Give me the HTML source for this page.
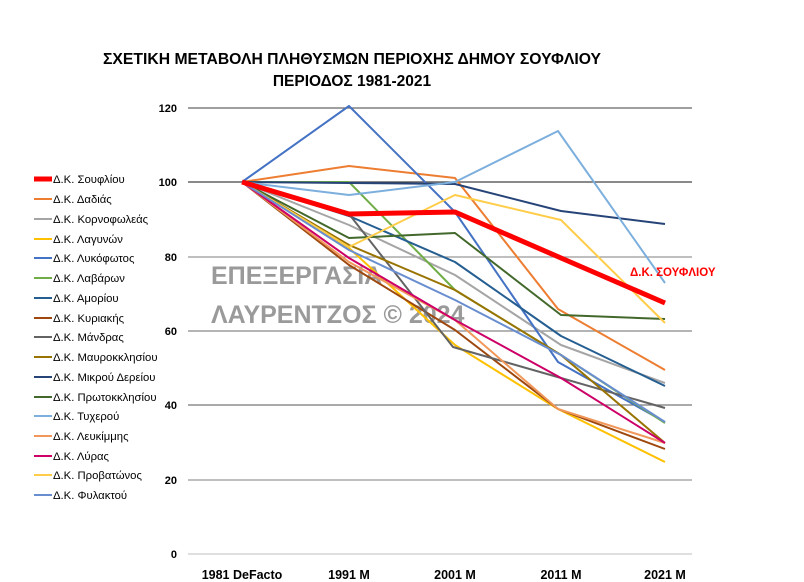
<!DOCTYPE html>
<html><head><meta charset="utf-8"><style>body{margin:0;background:#fff}svg{display:block}text{font-family:"Liberation Sans","DejaVu Sans",sans-serif}</style></head><body>
<svg width="804" height="582" xmlns="http://www.w3.org/2000/svg">
<text x="352" y="64" text-anchor="middle" font-size="15.5" font-weight="bold" textLength="498" lengthAdjust="spacingAndGlyphs">ΣΧΕΤΙΚΗ ΜΕΤΑΒΟΛΗ ΠΛΗΘΥΣΜΩΝ ΠΕΡΙΟΧΗΣ ΔΗΜΟΥ ΣΟΥΦΛΙΟΥ</text>
<text x="352" y="86" text-anchor="middle" font-size="15.5" font-weight="bold">ΠΕΡΙΟΔΟΣ 1981-2021</text>
<g stroke-width="1.3">
<line x1="188" x2="692" y1="108" y2="108" stroke="#666"/>
<line x1="188" x2="692" y1="182" y2="182" stroke="#444"/>
<line x1="188" x2="692" y1="257" y2="257" stroke="#999"/>
<line x1="188" x2="692" y1="331" y2="331" stroke="#888"/>
<line x1="188" x2="692" y1="405" y2="405" stroke="#777"/>
<line x1="188" x2="692" y1="480" y2="480" stroke="#999"/>
<line x1="188" x2="692" y1="554" y2="554" stroke="#ccc"/>
</g>
<g font-size="11" font-weight="bold" text-anchor="end">
<text x="177" y="112">120</text><text x="177" y="186">100</text><text x="177" y="261">80</text><text x="177" y="335">60</text><text x="177" y="409">40</text><text x="177" y="484">20</text><text x="177" y="558">0</text>
</g>
<g font-size="12.5" font-weight="bold" text-anchor="middle">
<text x="242" y="579">1981 DeFacto</text><text x="349" y="579">1991 M</text><text x="455" y="579">2001 M</text><text x="561" y="579">2011 M</text><text x="665" y="579">2021 M</text>
</g>
<g font-size="25" fill="#9a9a9a" font-weight="bold">
<text x="211" y="284">ΕΠΕΞΕΡΓΑΣΙΑ</text>
<text x="211" y="323">ΛΑΥΡΕΝΤΖΟΣ © 2024</text>
</g>
<g fill="none" stroke-width="2" stroke-linejoin="round">
<polyline stroke="#ED7D31" points="242,182 349,166 455,178 558,309 665,370"/>
<polyline stroke="#A5A5A5" points="242,182 349,225 455,275 561,345 665,383"/>
<polyline stroke="#FFC000" points="242,182 349,248 455,345 558,409 665,462"/>
<polyline stroke="#4472C4" points="242,182 349,106 455,212 558,362 665,422"/>
<polyline stroke="#70AD47" points="242,182 349,182 455,290 561,355 665,423"/>
<polyline stroke="#255E91" points="242,182 349,216 455,262 561,336 665,386"/>
<polyline stroke="#9E480E" points="242,182 349,265 455,330 558,409 665,449"/>
<polyline stroke="#636363" points="242,182 349,214 453,347 561,378 665,408"/>
<polyline stroke="#997300" points="242,182 349,245 455,290 561,355 665,443"/>
<polyline stroke="#264478" points="242,182 349,183 455,184 561,211 665,224"/>
<polyline stroke="#43682B" points="242,182 349,238 455,233 561,315 665,319"/>
<polyline stroke="#7CAFDD" points="242,182 349,195 455,182 558,131 665,283"/>
<polyline stroke="#F1975A" points="242,182 349,262 455,320 558,409 665,443"/>
<polyline stroke="#CC0066" points="242,182 349,258 455,320 561,378 665,443"/>
<polyline stroke="#FFCD4A" points="242,182 349,247 455,195 561,220 665,323"/>
<polyline stroke="#698ED0" points="242,182 349,250 455,300 561,355 665,422"/>
<polyline stroke="#FF0000" stroke-width="5" points="242,182 349,214 455,212 561,258 665,303"/>
</g>
<text x="630" y="276" font-size="11.5" font-weight="bold" fill="#FF0000">Δ.Κ. ΣΟΥΦΛΙΟΥ</text>
<g font-size="11.3">
<g stroke-width="2">
<line x1="34" x2="52" y1="179" y2="179" stroke="#FF0000" stroke-width="5"/>
<line x1="34" x2="52" y1="199" y2="199" stroke="#ED7D31"/>
<line x1="34" x2="52" y1="219" y2="219" stroke="#A5A5A5"/>
<line x1="34" x2="52" y1="239" y2="239" stroke="#FFC000"/>
<line x1="34" x2="52" y1="258" y2="258" stroke="#4472C4"/>
<line x1="34" x2="52" y1="278" y2="278" stroke="#70AD47"/>
<line x1="34" x2="52" y1="298" y2="298" stroke="#255E91"/>
<line x1="34" x2="52" y1="318" y2="318" stroke="#9E480E"/>
<line x1="34" x2="52" y1="337" y2="337" stroke="#636363"/>
<line x1="34" x2="52" y1="357" y2="357" stroke="#997300"/>
<line x1="34" x2="52" y1="377" y2="377" stroke="#264478"/>
<line x1="34" x2="52" y1="397" y2="397" stroke="#43682B"/>
<line x1="34" x2="52" y1="416" y2="416" stroke="#7CAFDD"/>
<line x1="34" x2="52" y1="436" y2="436" stroke="#F1975A"/>
<line x1="34" x2="52" y1="456" y2="456" stroke="#CC0066"/>
<line x1="34" x2="52" y1="475" y2="475" stroke="#FFCD4A"/>
<line x1="34" x2="52" y1="495" y2="495" stroke="#698ED0"/>
</g>
<text x="53" y="183">Δ.Κ. Σουφλίου</text>
<text x="53" y="203">Δ.Κ. Δαδιάς</text>
<text x="53" y="223">Δ.Κ. Κορνοφωλεάς</text>
<text x="53" y="243">Δ.Κ. Λαγυνών</text>
<text x="53" y="262">Δ.Κ. Λυκόφωτος</text>
<text x="53" y="282">Δ.Κ. Λαβάρων</text>
<text x="53" y="302">Δ.Κ. Αμορίου</text>
<text x="53" y="322">Δ.Κ. Κυριακής</text>
<text x="53" y="341">Δ.Κ. Μάνδρας</text>
<text x="53" y="361">Δ.Κ. Μαυροκκλησίου</text>
<text x="53" y="381">Δ.Κ. Μικρού Δερείου</text>
<text x="53" y="401">Δ.Κ. Πρωτοκκλησίου</text>
<text x="53" y="420">Δ.Κ. Τυχερού</text>
<text x="53" y="440">Δ.Κ. Λευκίμμης</text>
<text x="53" y="460">Δ.Κ. Λύρας</text>
<text x="53" y="479">Δ.Κ. Προβατώνος</text>
<text x="53" y="499">Δ.Κ. Φυλακτού</text>
</g>
</svg>
</body></html>
